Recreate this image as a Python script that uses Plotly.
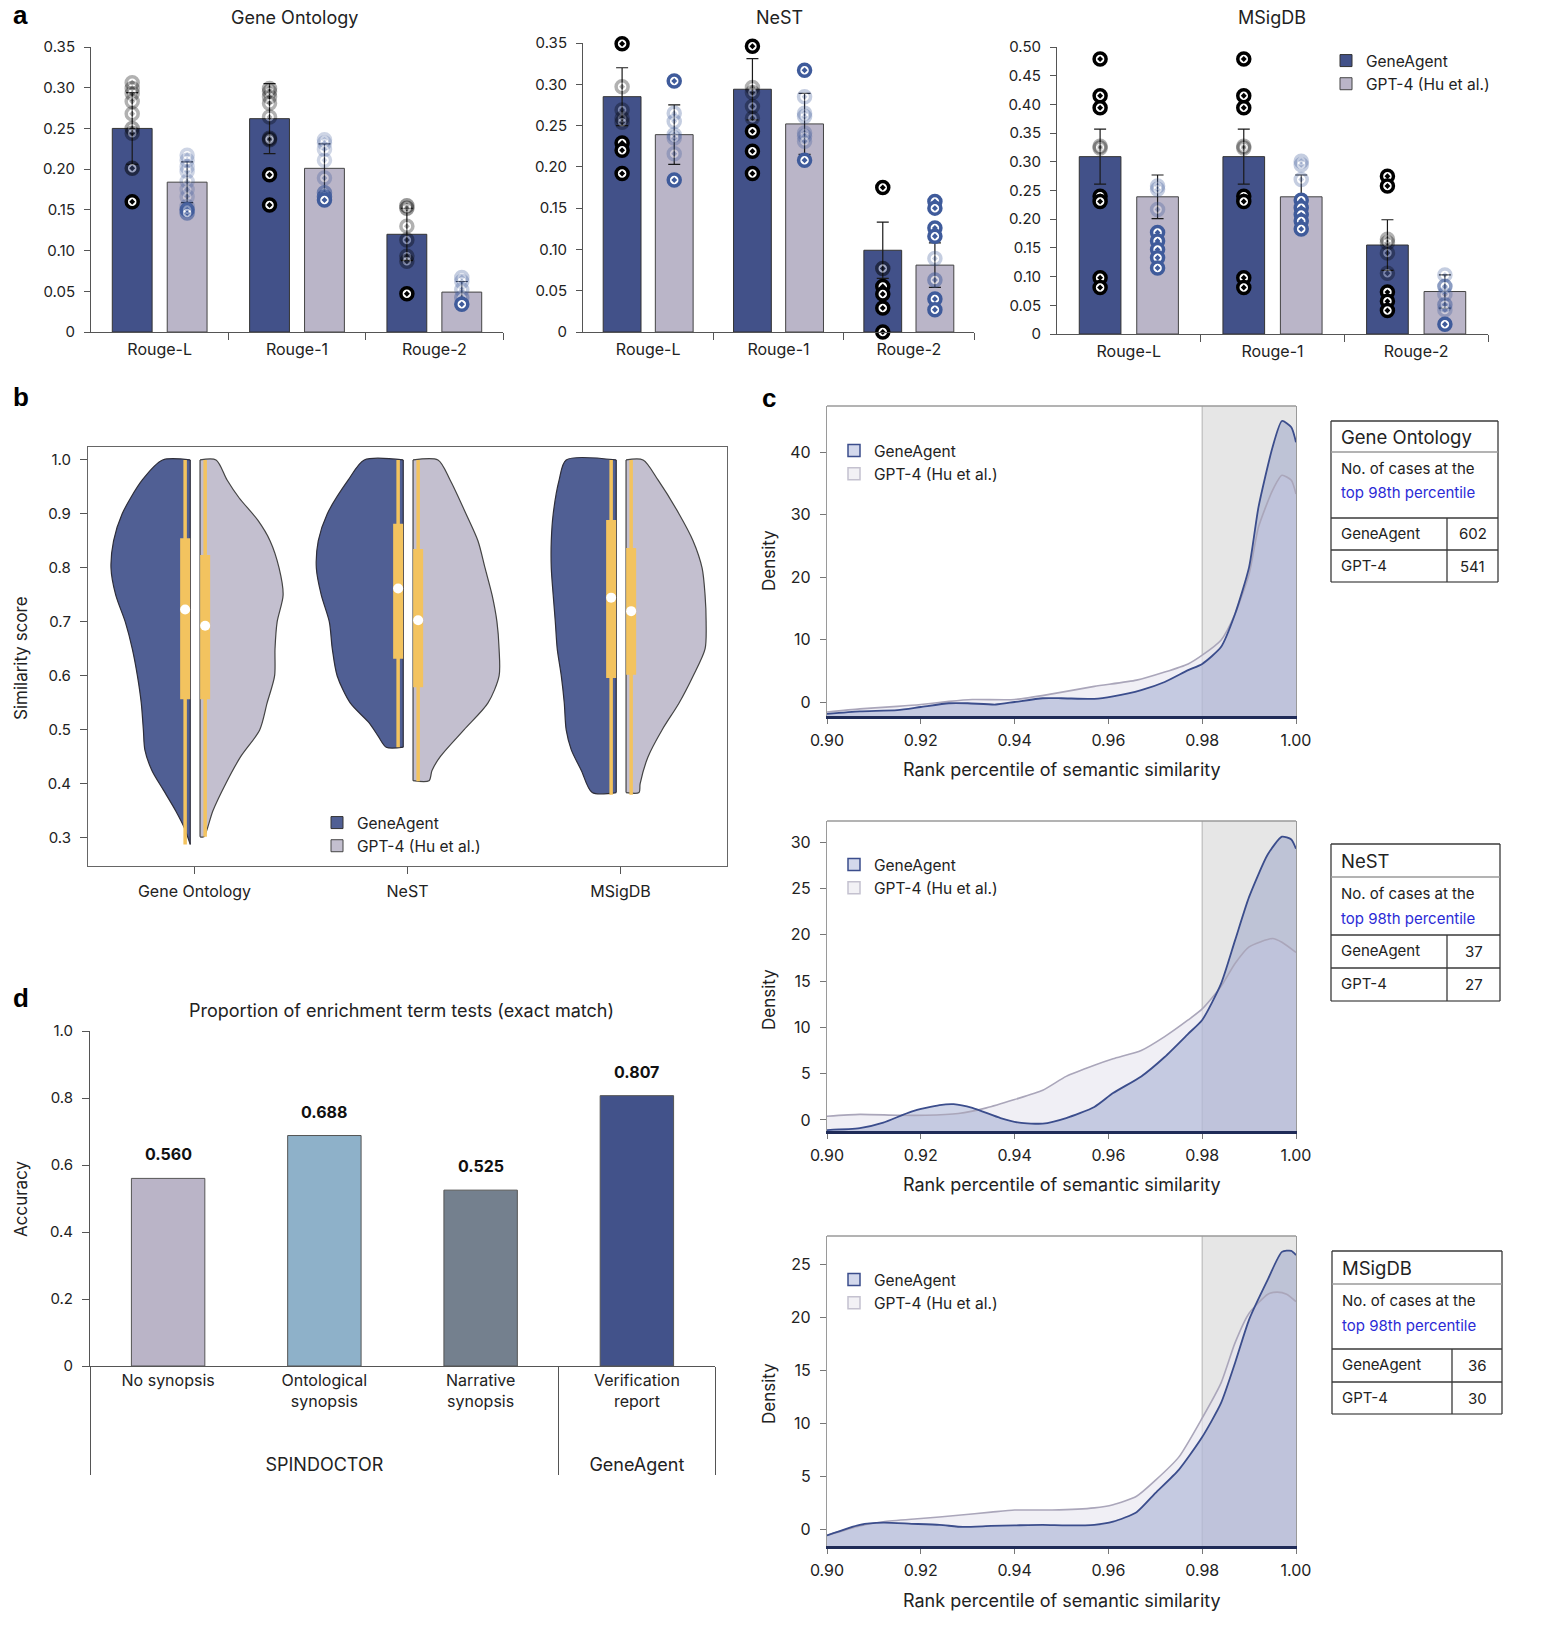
import numpy as np
import plotly.graph_objects as go

W, H = 1556, 1637
FONT = "Inter, Roboto, 'Noto Sans', Arial, sans-serif"
INK = "#222222"


def fx(px):
    return px / W


def fy(py):
    return 1 - py / H


# ======================= DATA =======================
# ---- panel a : ROUGE scores ----
rouge_metrics = ["Rouge-L", "Rouge-1", "Rouge-2"]
panel_a_titles = ["Gene Ontology", "NeST", "MSigDB"]

go_geneagent_mean = [0.250, 0.262, 0.120]
go_geneagent_err = [0.044, 0.043, 0.032]
go_gpt4_mean = [0.184, 0.201, 0.049]
go_gpt4_err = [0.025, 0.030, 0.013]

nest_geneagent_mean = [0.285, 0.294, 0.099]
nest_geneagent_err = [0.035, 0.037, 0.034]
nest_gpt4_mean = [0.239, 0.252, 0.081]
nest_gpt4_err = [0.036, 0.037, 0.027]

msig_geneagent_mean = [0.309, 0.309, 0.155]
msig_geneagent_err = [0.048, 0.048, 0.044]
msig_gpt4_mean = [0.239, 0.239, 0.074]
msig_gpt4_err = [0.038, 0.038, 0.029]

go_geneagent_pts = [
    [0.306, 0.299, 0.293, 0.283, 0.268, 0.250, 0.244, 0.201, 0.160],
    [0.299, 0.295, 0.289, 0.281, 0.264, 0.238, 0.236, 0.193, 0.156],
    [0.155, 0.152, 0.130, 0.113, 0.093, 0.087, 0.047],
]
go_geneagent_alpha = [
    [0.3, 0.3, 0.3, 0.3, 0.3, 0.35, 0.35, 0.5, 1],
    [0.3, 0.3, 0.3, 0.3, 0.3, 0.4, 0.4, 1, 1],
    [0.4, 0.4, 0.3, 0.35, 0.35, 0.35, 1],
]
go_gpt4_pts = [
    [0.217, 0.211, 0.203, 0.197, 0.185, 0.175, 0.166, 0.154, 0.150, 0.146],
    [0.236, 0.232, 0.224, 0.211, 0.189, 0.171, 0.166, 0.162],
    [0.067, 0.062, 0.052, 0.042, 0.034],
]
go_gpt4_alpha = [
    [0.25, 0.25, 0.25, 0.25, 0.25, 0.25, 0.25, 0.3, 0.9, 0.6],
    [0.25, 0.25, 0.25, 0.25, 0.3, 0.6, 0.8, 1],
    [0.3, 0.3, 0.3, 0.4, 1],
]

nest_geneagent_pts = [
    [0.349, 0.297, 0.269, 0.259, 0.254, 0.229, 0.220, 0.192],
    [0.346, 0.296, 0.290, 0.273, 0.259, 0.243, 0.219, 0.192],
    [0.175, 0.077, 0.055, 0.046, 0.029, 0.000],
]
nest_geneagent_alpha = [
    [1, 0.3, 0.3, 0.3, 0.3, 1, 1, 1],
    [1, 0.3, 0.3, 0.3, 0.3, 1, 1, 1],
    [1, 0.5, 1, 1, 1, 1],
]
nest_gpt4_pts = [
    [0.304, 0.265, 0.255, 0.239, 0.235, 0.216, 0.184],
    [0.317, 0.285, 0.265, 0.261, 0.241, 0.237, 0.231, 0.208],
    [0.158, 0.150, 0.126, 0.116, 0.089, 0.063, 0.040, 0.027],
]
nest_gpt4_alpha = [
    [1, 0.3, 0.3, 0.3, 0.3, 0.3, 1],
    [1, 0.3, 0.3, 0.3, 0.3, 0.3, 0.3, 1],
    [1, 1, 1, 1, 0.3, 0.5, 1, 1],
]

msig_geneagent_pts = [
    [0.479, 0.415, 0.394, 0.327, 0.324, 0.240, 0.231, 0.098, 0.081],
    [0.479, 0.415, 0.394, 0.327, 0.324, 0.240, 0.231, 0.098, 0.081],
    [0.275, 0.258, 0.165, 0.159, 0.141, 0.106, 0.073, 0.057, 0.041],
]
msig_geneagent_alpha = [
    [1, 1, 1, 0.3, 0.3, 1, 1, 1, 1],
    [1, 1, 1, 0.3, 0.3, 1, 1, 1, 1],
    [1, 1, 0.3, 0.3, 0.3, 0.3, 1, 1, 1],
]
msig_gpt4_pts = [
    [0.258, 0.252, 0.217, 0.177, 0.162, 0.147, 0.133, 0.115],
    [0.301, 0.295, 0.269, 0.233, 0.220, 0.208, 0.197, 0.183],
    [0.103, 0.083, 0.069, 0.051, 0.042, 0.017],
]
msig_gpt4_alpha = [
    [0.3, 0.3, 0.3, 1, 1, 1, 1, 1],
    [0.3, 0.3, 0.3, 1, 1, 1, 1, 1],
    [0.3, 0.6, 0.3, 0.5, 0.3, 1],
]

a_ytick_vals_035 = [0, 0.05, 0.10, 0.15, 0.20, 0.25, 0.30, 0.35]
a_ytick_text_035 = ["0", "0.05", "0.10", "0.15", "0.20", "0.25", "0.30", "0.35"]
a_ytick_vals_050 = [0, 0.05, 0.10, 0.15, 0.20, 0.25, 0.30, 0.35, 0.40, 0.45, 0.50]
a_ytick_text_050 = ["0", "0.05", "0.10", "0.15", "0.20", "0.25", "0.30", "0.35",
                    "0.40", "0.45", "0.50"]

# ---- panel b : similarity score distributions (half-violins) ----
b_categories = ["Gene Ontology", "NeST", "MSigDB"]
vio_go_ga_levels = [1.0, 0.963, 0.9, 0.85, 0.8, 0.75, 0.7, 0.65, 0.6, 0.55, 0.5, 0.463,
                    0.425, 0.388, 0.35, 0.319, 0.288]
vio_go_ga_width = [0.130, 0.225, 0.320, 0.360, 0.372, 0.350, 0.305, 0.272, 0.248, 0.230,
                   0.220, 0.213, 0.180, 0.125, 0.068, 0.028, 0.0]
vio_go_gpt_levels = [1.0, 0.963, 0.93, 0.888, 0.85, 0.8, 0.75, 0.7, 0.65, 0.6, 0.55, 0.5,
                     0.45, 0.4, 0.35, 0.302]
vio_go_gpt_width = [0.075, 0.127, 0.183, 0.272, 0.329, 0.371, 0.390, 0.362, 0.352, 0.350,
                    0.315, 0.280, 0.190, 0.120, 0.060, 0.018]
vio_nest_ga_levels = [1.0, 0.963, 0.9, 0.85, 0.8, 0.75, 0.7, 0.65, 0.6, 0.55, 0.513, 0.488,
                      0.468]
vio_nest_ga_width = [0.183, 0.258, 0.357, 0.399, 0.408, 0.385, 0.347, 0.333, 0.310, 0.249,
                     0.160, 0.117, 0.080]
vio_nest_gpt_levels = [1.0, 0.963, 0.9, 0.85, 0.8, 0.75, 0.7, 0.65, 0.6, 0.55, 0.5, 0.45,
                       0.425, 0.406]
vio_nest_gpt_width = [0.117, 0.174, 0.249, 0.305, 0.338, 0.371, 0.394, 0.404, 0.404, 0.352,
                      0.239, 0.127, 0.089, 0.075]
vio_msig_ga_levels = [1.0, 0.963, 0.9, 0.85, 0.8, 0.75, 0.7, 0.65, 0.6, 0.55, 0.5, 0.463,
                      0.425, 0.384]
vio_msig_ga_width = [0.235, 0.268, 0.296, 0.305, 0.305, 0.296, 0.286, 0.277, 0.258, 0.244,
                     0.235, 0.211, 0.164, 0.113]
vio_msig_gpt_levels = [1.0, 0.963, 0.9, 0.85, 0.8, 0.75, 0.7, 0.65, 0.6, 0.55, 0.5, 0.45,
                       0.4, 0.384]
vio_msig_gpt_width = [0.080, 0.150, 0.249, 0.315, 0.357, 0.371, 0.376, 0.371, 0.315, 0.249,
                      0.169, 0.103, 0.066, 0.061]
# box statistics: [min, q1, median, q3, max]
box_geneagent = [[0.288, 0.557, 0.723, 0.855, 1.0],
                 [0.468, 0.632, 0.762, 0.882, 1.0],
                 [0.380, 0.596, 0.745, 0.889, 1.0]]
box_gpt4 = [[0.302, 0.557, 0.693, 0.824, 1.0],
            [0.405, 0.579, 0.703, 0.835, 1.0],
            [0.380, 0.602, 0.720, 0.837, 1.0]]
b_ytick_vals = [0.3, 0.4, 0.5, 0.6, 0.7, 0.8, 0.9, 1.0]

# ---- panel c : density of rank percentile ----
top_pct_threshold = 0.98
c_xtick_vals = [0.90, 0.92, 0.94, 0.96, 0.98, 1.00]

c_go_ga_x = [0.900, 0.907, 0.915, 0.920, 0.926, 0.930, 0.936, 0.940, 0.946, 0.950, 0.957,
             0.961, 0.967, 0.972, 0.977, 0.980, 0.984, 0.987, 0.990, 0.992, 0.995, 0.997,
             0.999, 1.000]
c_go_ga_y = [-1.9, -1.5, -1.3, -0.8, -0.2, -0.2, -0.4, 0.0, 0.6, 0.6, 0.5, 0.9, 1.9, 3.2,
             5.1, 6.1, 8.8, 14.1, 21.6, 31.2, 40.8, 45.0, 44.0, 41.6]
c_go_gpt_x = [0.900, 0.907, 0.915, 0.920, 0.926, 0.931, 0.940, 0.948, 0.957, 0.966, 0.972,
              0.977, 0.980, 0.984, 0.987, 0.990, 0.992, 0.995, 0.997, 0.999, 1.000]
c_go_gpt_y = [-1.6, -1.1, -0.7, -0.4, 0.1, 0.4, 0.4, 1.3, 2.5, 3.5, 4.8, 6.1, 7.5, 9.9,
              14.1, 20.5, 28.0, 33.9, 36.3, 35.5, 33.3]

c_nest_ga_x = [0.900, 0.907, 0.912, 0.918, 0.924, 0.927, 0.931, 0.937, 0.941, 0.946, 0.951,
               0.957, 0.961, 0.967, 0.972, 0.977, 0.980, 0.984, 0.987, 0.990, 0.994, 0.997,
               0.999, 1.000]
c_nest_ga_y = [-1.1, -0.9, -0.3, 0.9, 1.6, 1.7, 1.3, 0.2, -0.3, -0.4, 0.2, 1.4, 2.9, 4.7,
               6.8, 9.3, 10.8, 14.7, 19.4, 24.1, 28.7, 30.6, 30.3, 29.3]
c_nest_gpt_x = [0.900, 0.907, 0.915, 0.921, 0.928, 0.934, 0.940, 0.946, 0.951, 0.957, 0.961,
                0.967, 0.972, 0.977, 0.980, 0.984, 0.987, 0.990, 0.995, 0.997, 1.000]
c_nest_gpt_y = [0.4, 0.6, 0.5, 0.5, 0.7, 1.3, 2.2, 3.2, 4.7, 5.9, 6.6, 7.5, 9.0, 10.8,
                12.0, 14.4, 16.9, 18.7, 19.6, 19.2, 18.1]

c_msig_ga_x = [0.900, 0.907, 0.912, 0.918, 0.924, 0.929, 0.935, 0.940, 0.946, 0.951, 0.957,
               0.961, 0.966, 0.970, 0.975, 0.980, 0.984, 0.987, 0.990, 0.994, 0.997, 0.999,
               1.000]
c_msig_ga_y = [-0.6, 0.4, 0.6, 0.5, 0.4, 0.2, 0.3, 0.35, 0.4, 0.35, 0.4, 0.7, 1.6, 3.4,
               5.6, 8.7, 11.9, 15.7, 19.8, 23.6, 26.2, 26.3, 25.9]
c_msig_gpt_x = [0.900, 0.907, 0.912, 0.920, 0.928, 0.935, 0.940, 0.948, 0.957, 0.961, 0.966,
                0.970, 0.975, 0.980, 0.984, 0.987, 0.990, 0.994, 0.996, 0.998, 1.000]
c_msig_gpt_y = [-0.6, 0.3, 0.7, 1.0, 1.3, 1.6, 1.8, 1.8, 2.0, 2.3, 3.1, 4.6, 6.8, 10.5,
                13.8, 17.6, 20.4, 22.2, 22.4, 22.2, 21.5]

c_y_ranges = [[-2.24, 47.4], [-1.2, 32.3], [-1.6, 27.7]]
c_ytick_vals = [[0, 10, 20, 30, 40], [0, 5, 10, 15, 20, 25, 30], [0, 5, 10, 15, 20, 25]]

table_titles = ["Gene Ontology", "NeST", "MSigDB"]
top98_geneagent = [602, 37, 36]
top98_gpt4 = [541, 27, 30]

# ---- panel d : enrichment term tests ----
d_groups = ["SPINDOCTOR", "SPINDOCTOR", "SPINDOCTOR", "GeneAgent"]
d_methods = ["No synopsis", "Ontological<br>synopsis", "Narrative<br>synopsis",
             "Verification<br>report"]
d_accuracy = [0.560, 0.688, 0.525, 0.807]
d_ytick_vals = [0, 0.2, 0.4, 0.6, 0.8, 1.0]
d_ytick_text = ["0", "0.2", "0.4", "0.6", "0.8", "1.0"]

# ======================= STYLE =======================
GA_BAR = "#425189"
GPT_BAR = "#bab5c8"
GPT_DOT = "#3f5b9b"
VIO_GA = "#505f94"
VIO_GPT = "#c3bfcf"
YELLOW = "#f3c35f"
C_GA_LINE = "#3b4d8c"
C_GPT_LINE = "#aaa6ba"
C_GA_FILL = "rgba(100,115,180,0.30)"
C_GPT_FILL = "rgba(232,230,240,0.65)"
D_COLORS = ["#bab4c7", "#8eb1c9", "#74808e", "#42528a"]
NBSP = "\u00a0"

fig = go.Figure()
layout = dict(
    width=W, height=H, margin=dict(l=0, r=0, t=0, b=0, autoexpand=False), autosize=False,
    paper_bgcolor="white", plot_bgcolor="white",
    font=dict(family=FONT, color=INK, size=15),
    barmode="overlay", showlegend=True, hovermode=False,
)
shapes = []
annotations = []


def paper_text(text, px_, py_, size, color=INK, xanchor="center", angle=0, family=None):
    f = dict(size=size, color=color)
    if family:
        f["family"] = family
    annotations.append(dict(text=text, x=fx(px_), y=fy(py_), xref="paper", yref="paper",
                            xanchor=xanchor, yanchor="middle", showarrow=False,
                            textangle=angle, font=f))


def axname(prefix, n):
    return prefix if n == 1 else f"{prefix}{n}"


# ======================= PANEL a =======================
a_sets = [
    (go_geneagent_mean, go_geneagent_err, go_gpt4_mean, go_gpt4_err,
     go_geneagent_pts, go_geneagent_alpha, go_gpt4_pts, go_gpt4_alpha),
    (nest_geneagent_mean, nest_geneagent_err, nest_gpt4_mean, nest_gpt4_err,
     nest_geneagent_pts, nest_geneagent_alpha, nest_gpt4_pts, nest_gpt4_alpha),
    (msig_geneagent_mean, msig_geneagent_err, msig_gpt4_mean, msig_gpt4_err,
     msig_geneagent_pts, msig_geneagent_alpha, msig_gpt4_pts, msig_gpt4_alpha),
]
a_dom_x = [(91, 503), (583, 974), (1057, 1488)]
a_dom_y = [(47, 332), (43, 332), (47, 334)]
a_ranges = [[0, 0.35], [0, 0.35], [0, 0.50]]
a_ticks = [(a_ytick_vals_035, a_ytick_text_035), (a_ytick_vals_035, a_ytick_text_035),
           (a_ytick_vals_050, a_ytick_text_050)]
a_title_x = [294, 779, 1272]
BAR_OFF, BAR_W = 0.2, 0.29
cat_idx = np.arange(len(rouge_metrics))

for k, (gam, gae, gpm, gpe, gapts, gaal, gppts, gpal) in enumerate(a_sets):
    n = k + 1
    xa, ya = axname("x", n), axname("y", n)
    fig.add_trace(go.Bar(
        x=cat_idx - BAR_OFF, y=gam, width=BAR_W, name="GeneAgent",
        marker=dict(color=GA_BAR, line=dict(color="#333333", width=1)),
        error_y=dict(type="data", array=gae, color="#1a1a1a", thickness=1.2, width=6),
        xaxis=xa, yaxis=ya, showlegend=(k == 2), legend="legend"))
    fig.add_trace(go.Bar(
        x=cat_idx + BAR_OFF, y=gpm, width=BAR_W, name="GPT-4 (Hu et al.)",
        marker=dict(color=GPT_BAR, line=dict(color="#444444", width=1)),
        error_y=dict(type="data", array=gpe, color="#1a1a1a", thickness=1.2, width=6),
        xaxis=xa, yaxis=ya, showlegend=(k == 2), legend="legend"))
    for i in range(len(rouge_metrics)):
        fig.add_trace(go.Scatter(
            x=[cat_idx[i] - BAR_OFF] * len(gapts[i]), y=gapts[i], mode="markers",
            marker=dict(symbol="circle-dot", size=12, color="white", opacity=gaal[i],
                        line=dict(color="black", width=3.5)),
            xaxis=xa, yaxis=ya, showlegend=False, cliponaxis=False))
        fig.add_trace(go.Scatter(
            x=[cat_idx[i] + BAR_OFF] * len(gppts[i]), y=gppts[i], mode="markers",
            marker=dict(symbol="circle-dot", size=12, color="white", opacity=gpal[i],
                        line=dict(color=GPT_DOT, width=3.5)),
            xaxis=xa, yaxis=ya, showlegend=False, cliponaxis=False))

    x0, x1 = a_dom_x[k]
    yt, yb = a_dom_y[k]
    layout[axname("xaxis", n)] = dict(
        domain=[fx(x0), fx(x1)], anchor=ya, range=[-0.5, 2.5],
        tickmode="array", tickvals=list(cat_idx), ticktext=rouge_metrics, ticks="",
        ticklabelstandoff=3,
        showline=True, linecolor="#555555", linewidth=1, showgrid=False, zeroline=False,
        tickfont=dict(size=16, color=INK),
        minor=dict(tickmode="array", tickvals=[0.5, 1.5, 2.5], ticks="outside",
                   ticklen=7, tickcolor="#555555", showgrid=False))
    layout[axname("yaxis", n)] = dict(
        domain=[fy(yb), fy(yt)], anchor=xa, range=a_ranges[k],
        tickmode="array", tickvals=a_ticks[k][0], ticktext=a_ticks[k][1],
        ticks="outside", ticklen=6, tickcolor="#555555", ticklabelstandoff=6,
        showline=True, linecolor="#555555", linewidth=1, showgrid=False, zeroline=False,
        tickfont=dict(size=15, color=INK))
    paper_text(panel_a_titles[k], a_title_x[k], 17, 18)

layout["legend"] = dict(x=fx(1326), y=fy(44), xanchor="left", yanchor="top",
                        bgcolor="rgba(0,0,0,0)", font=dict(size=15.5, color=INK),
                        tracegroupgap=0, itemclick=False)

# ======================= PANEL b =======================
vio_sets = [
    (vio_go_ga_levels, vio_go_ga_width, vio_go_gpt_levels, vio_go_gpt_width),
    (vio_nest_ga_levels, vio_nest_ga_width, vio_nest_gpt_levels, vio_nest_gpt_width),
    (vio_msig_ga_levels, vio_msig_ga_width, vio_msig_gpt_levels, vio_msig_gpt_width),
]
EDGE_GA, EDGE_GPT, BOX_IN = -0.02, 0.026, 0.024


def half_violin(levels, widths, edge, sign, fill, line):
    xs = [edge] + [edge + sign * w for w in widths]
    ys = [levels[0]] + list(levels)
    if widths[-1] > 0:
        xs.append(edge)
        ys.append(levels[-1])
    fig.add_trace(go.Scatter(
        x=xs, y=ys, mode="lines", fill="toself", fillcolor=fill,
        line=dict(color=line, width=1.2, shape="spline", smoothing=0.8),
        xaxis="x4", yaxis="y4", showlegend=False))
    fig.add_trace(go.Scatter(
        x=[edge, edge], y=[levels[-1], levels[0]], mode="lines",
        line=dict(color=line, width=1.2), xaxis="x4", yaxis="y4", showlegend=False))


def box_overlay(stats, xpos):
    mn, q1, med, q3, mx = stats
    fig.add_trace(go.Scatter(x=[xpos, xpos], y=[mn, mx], mode="lines",
                             line=dict(color=YELLOW, width=3.5),
                             xaxis="x4", yaxis="y4", showlegend=False))
    fig.add_trace(go.Scatter(x=[xpos, xpos], y=[q1, q3], mode="lines",
                             line=dict(color=YELLOW, width=10),
                             xaxis="x4", yaxis="y4", showlegend=False))
    fig.add_trace(go.Scatter(x=[xpos], y=[med], mode="markers",
                             marker=dict(color="white", size=10),
                             xaxis="x4", yaxis="y4", showlegend=False))


for i, (gal, gaw, gpl, gpw) in enumerate(vio_sets):
    half_violin(gal, gaw, i + EDGE_GA, -1, VIO_GA, "#2e2e3a")
    half_violin(gpl, gpw, i + EDGE_GPT, +1, VIO_GPT, "#444444")
    box_overlay(box_geneagent[i], i + EDGE_GA - BOX_IN)
    box_overlay(box_gpt4[i], i + EDGE_GPT + BOX_IN)

fig.add_trace(go.Bar(x=[None], y=[None], name="GeneAgent", xaxis="x4", yaxis="y4",
                     marker=dict(color=VIO_GA, line=dict(color="#333333", width=1)),
                     legend="legend2"))
fig.add_trace(go.Bar(x=[None], y=[None], name="GPT-4 (Hu et al.)", xaxis="x4", yaxis="y4",
                     marker=dict(color=VIO_GPT, line=dict(color="#444444", width=1)),
                     legend="legend2"))

layout["xaxis4"] = dict(
    domain=[fx(88), fx(727)], anchor="y4", range=[-0.5, 2.5],
    tickmode="array", tickvals=[0, 1, 2], ticktext=b_categories,
    ticks="outside", ticklen=7, tickcolor="#555555", ticklabelstandoff=4,
    showline=True, mirror=True, linecolor="#666666", linewidth=1.2,
    showgrid=False, zeroline=False, tickfont=dict(size=16, color=INK))
layout["yaxis4"] = dict(
    domain=[fy(866), fy(447)], anchor="x4", range=[0.248, 1.024],
    tickmode="array", tickvals=b_ytick_vals, tickformat=".1f",
    ticks="outside", ticklen=7, tickcolor="#555555", ticklabelstandoff=6,
    showline=True, mirror=True, linecolor="#666666", linewidth=1.2,
    showgrid=False, zeroline=False, tickfont=dict(size=15, color=INK))
layout["legend2"] = dict(x=fx(317), y=fy(806), xanchor="left", yanchor="top",
                         bgcolor="rgba(0,0,0,0)", font=dict(size=15.5, color=INK),
                         tracegroupgap=0, itemclick=False)
paper_text("Similarity score", 21, 658, 17, angle=-90)

# ======================= PANEL c =======================
c_sets = [
    (c_go_ga_x, c_go_ga_y, c_go_gpt_x, c_go_gpt_y),
    (c_nest_ga_x, c_nest_ga_y, c_nest_gpt_x, c_nest_gpt_y),
    (c_msig_ga_x, c_msig_ga_y, c_msig_gpt_x, c_msig_gpt_y),
]
c_dom_y = [(406, 716), (821, 1131), (1236, 1546)]
c_xtitle_y = [770, 1184, 1600]
c_ytitle_y = [561, 1000, 1394]
c_legend_top = [434, 848, 1263]
c_tables = [  # left, right, top, line1, line2, line3, bottom, column divider
    (1331, 1498, 421, 452, 518, 550, 582, 1447),
    (1331, 1500, 844, 877, 935, 968, 1001, 1447),
    (1332, 1502, 1251, 1284, 1349, 1382, 1414, 1452),
]

for k, (gax, gay, gpx, gpy) in enumerate(c_sets):
    n = 5 + k
    xa, ya = f"x{n}", f"y{n}"
    ymin = c_y_ranges[k][0]
    shapes.append(dict(type="rect", xref=xa, yref=f"{ya} domain",
                       x0=top_pct_threshold, x1=c_xtick_vals[-1], y0=0, y1=1,
                       fillcolor="#e6e6e6", line=dict(width=0), layer="below"))
    shapes.append(dict(type="line", xref=xa, yref=f"{ya} domain",
                       x0=top_pct_threshold, x1=top_pct_threshold, y0=0, y1=1,
                       line=dict(color="#bdbdbd", width=1.2), layer="below"))
    shapes.append(dict(type="line", xref=f"{xa} domain", yref=f"{ya} domain",
                       x0=0, x1=1, y0=1, y1=1, line=dict(color="#9a9a9a", width=1.5)))
    for xs, ys, fill in ((gpx, gpy, C_GPT_FILL), (gax, gay, C_GA_FILL)):
        fig.add_trace(go.Scatter(
            x=list(xs) + [xs[-1], xs[0]], y=list(ys) + [ymin, ymin],
            mode="lines", fill="toself", fillcolor=fill,
            line=dict(width=0, shape="spline", smoothing=0.6),
            xaxis=xa, yaxis=ya, showlegend=False))
    fig.add_trace(go.Scatter(x=gpx, y=gpy, mode="lines",
                             line=dict(color=C_GPT_LINE, width=1.6, shape="spline",
                                       smoothing=0.6),
                             xaxis=xa, yaxis=ya, showlegend=False))
    fig.add_trace(go.Scatter(x=gax, y=gay, mode="lines",
                             line=dict(color=C_GA_LINE, width=1.8, shape="spline",
                                       smoothing=0.6),
                             xaxis=xa, yaxis=ya, showlegend=False))
    leg = f"legend{3 + k}"
    fig.add_trace(go.Bar(x=[None], y=[None], name="GeneAgent", xaxis=xa, yaxis=ya,
                         marker=dict(color="#d3d8ec", line=dict(color=C_GA_LINE, width=1.5)),
                         legend=leg))
    fig.add_trace(go.Bar(x=[None], y=[None], name="GPT-4 (Hu et al.)", xaxis=xa, yaxis=ya,
                         marker=dict(color="#f2f1f5", line=dict(color="#c4c1cf", width=1.5)),
                         legend=leg))
    layout[leg] = dict(x=fx(834), y=fy(c_legend_top[k]), xanchor="left", yanchor="top",
                       bgcolor="rgba(0,0,0,0)", font=dict(size=15.5, color=INK),
                       tracegroupgap=0, itemclick=False)

    yt, yb = c_dom_y[k]
    layout[f"xaxis{n}"] = dict(
        domain=[fx(827), fx(1296)], anchor=ya, range=[0.9, 1.0],
        tickmode="array", tickvals=c_xtick_vals, tickformat=".2f",
        ticks="outside", ticklen=5, tickcolor="#777777", ticklabelstandoff=3,
        showline=True, linecolor="#1f2b57", linewidth=2.5,
        showgrid=False, zeroline=False, tickfont=dict(size=16, color=INK))
    layout[f"yaxis{n}"] = dict(
        domain=[fy(yb), fy(yt)], anchor=xa, range=c_y_ranges[k],
        tickmode="array", tickvals=c_ytick_vals[k],
        ticks="outside", ticklen=6, tickcolor="#777777", ticklabelstandoff=6,
        showline=True, mirror=True, linecolor="#9a9a9a", linewidth=1.2,
        showgrid=False, zeroline=False, tickfont=dict(size=16, color=INK))
    paper_text("Rank percentile of semantic similarity", 1062, c_xtitle_y[k], 18)
    paper_text("Density", 769, c_ytitle_y[k], 17, angle=-90)

    # summary table
    L, R, T, l1, l2, l3, B, C = c_tables[k]
    dark = dict(color="#3a3a3a", width=1.3)
    for (x0, y0, x1, y1, ln) in (
            (L, T, R, T, dark), (L, B, R, B, dict(color="#666666", width=1.3)),
            (L, T, L, B, dark), (R, T, R, B, dark),
            (L, l1, R, l1, dict(color="#9a9a9a", width=1.5)),
            (L, l2, R, l2, dark), (L, l3, R, l3, dark), (C, l2, C, B, dark)):
        shapes.append(dict(type="line", xref="paper", yref="paper",
                           x0=fx(x0), y0=fy(y0), x1=fx(x1), y1=fy(y1), line=ln))
    tx = L + 8
    paper_text(table_titles[k], tx, (T + l1) / 2, 18.5, xanchor="left")
    paper_text("No. of cases at the", tx, l1 + 16, 15, xanchor="left")
    paper_text("top 98th percentile", tx, l1 + 41, 15, color="#2b2bd6", xanchor="left")
    paper_text("GeneAgent", tx, (l2 + l3) / 2 - 1, 15, xanchor="left")
    paper_text("GPT-4", tx, (l3 + B) / 2 - 1, 15, xanchor="left")
    paper_text(str(top98_geneagent[k]), (C + R) / 2, (l2 + l3) / 2, 15)
    paper_text(str(top98_gpt4[k]), (C + R) / 2, (l3 + B) / 2, 15)

# ======================= PANEL d =======================
d_outer = [f'<span style="font-size:18px">{g}</span>' for g in d_groups]
d_inner = []
for m in d_methods:
    n_lines = m.count("<br>") + 1
    d_inner.append(m + ("<br>" + NBSP) * (4 - n_lines))
fig.add_trace(go.Bar(
    x=[d_outer, d_inner], y=d_accuracy, width=0.47,
    marker=dict(color=D_COLORS, line=dict(color="#555555", width=1)),
    xaxis="x8", yaxis="y8", showlegend=False))
for i, v in enumerate(d_accuracy):
    annotations.append(dict(text=f"<b>{v:.3f}</b>", x=i, y=v, xref="x8", yref="y8",
                            xanchor="center", yanchor="bottom", yshift=12,
                            showarrow=False, font=dict(size=16, color="#111111")))
layout["xaxis8"] = dict(
    domain=[fx(90), fx(715)], anchor="y8", type="multicategory",
    showline=True, linecolor="#555555", linewidth=1, ticks="",
    showdividers=True, dividercolor="#555555", dividerwidth=1,
    showgrid=False, zeroline=False, tickfont=dict(size=16, color=INK))
layout["yaxis8"] = dict(
    domain=[fy(1366), fy(1031)], anchor="x8", range=[0, 1.0],
    tickmode="array", tickvals=d_ytick_vals, ticktext=d_ytick_text,
    ticks="outside", ticklen=7, tickcolor="#555555", ticklabelstandoff=6,
    showline=True, linecolor="#555555", linewidth=1,
    showgrid=False, zeroline=False, tickfont=dict(size=15, color=INK))
paper_text("Proportion of enrichment term tests (exact match)", 401, 1010, 18)
paper_text("Accuracy", 21, 1199, 17, angle=-90)

# ======================= panel letters =======================
for letter, px_, py_ in (("a", 20, 15), ("b", 21, 397), ("c", 769, 398), ("d", 21, 998)):
    paper_text(f"<b>{letter}</b>", px_, py_, 26, color="#000000",
               family="Arial, sans-serif")

layout["shapes"] = shapes
layout["annotations"] = annotations
fig.update_layout(**layout)
fig.write_html("out.html")
